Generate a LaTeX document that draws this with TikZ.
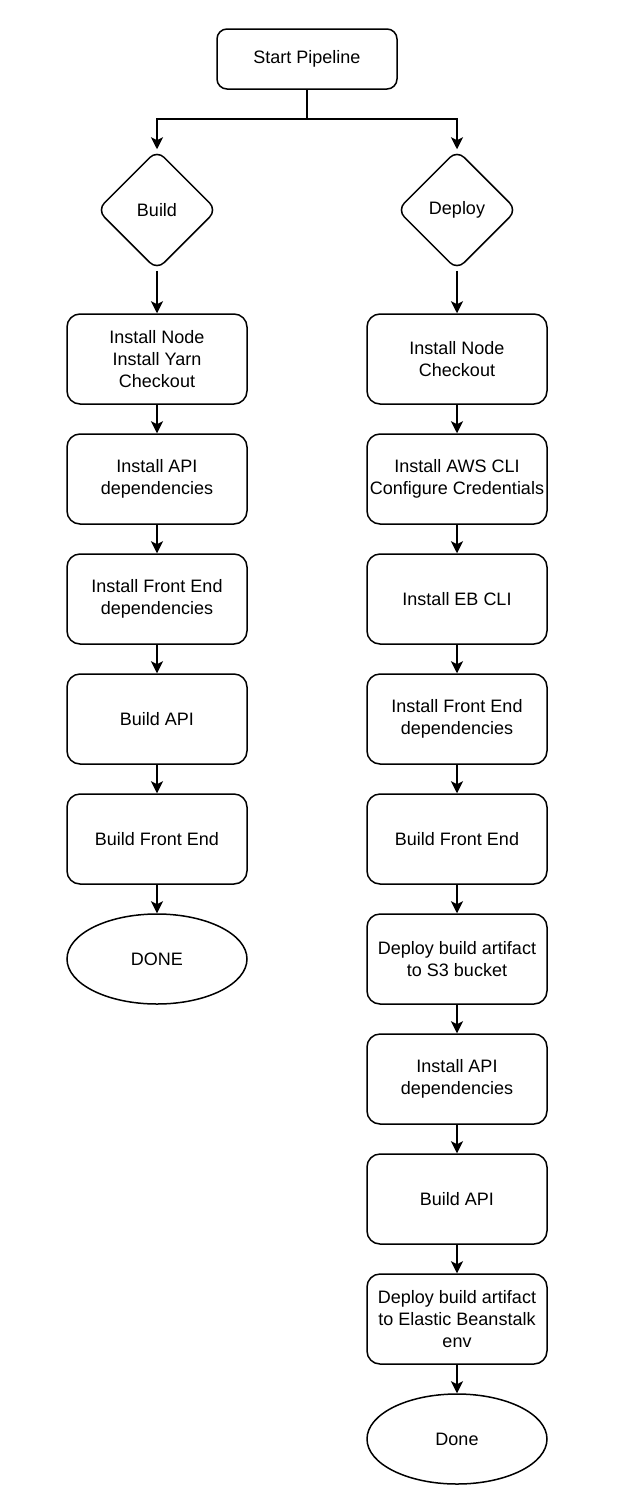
\documentclass[tikz,border=0pt]{standalone}
\usepackage{fontspec}
\setmainfont{Liberation Sans}
\usetikzlibrary{shapes.geometric,arrows.meta}

\begin{document}
\begin{tikzpicture}[x=1pt, y=-1pt, line width=1.5pt,
    every node/.style={font=\fontsize{18}{21.6}\selectfont, align=center},
    stepbox/.style={rectangle, draw, rounded corners=13pt, minimum width=180pt, minimum height=90pt, inner sep=0pt},
    branch/.style={diamond, draw, rounded corners=10pt, minimum width=120pt, minimum height=120pt, inner sep=0pt},
    finish/.style={ellipse, draw, minimum width=180pt, minimum height=90pt, inner sep=0pt},
    flow/.style={-{Stealth[length=12pt, width=12pt, inset=3pt]}}]
    \useasboundingbox (0,0) rectangle (620,1494);

    % Start and split
    \node[rectangle, draw, rounded corners=10pt, minimum width=180pt, minimum height=60pt, inner sep=0pt] (start) at (307,59) {Start Pipeline};
    \node[branch] (build) at (157,210) {Build};
    \node[branch] (deploy) at (457,210) {Deploy};
    \coordinate (split) at (307,119);

    \draw (start) -- (split);
    \draw[flow] (split) -| (build);
    \draw[flow] (split) -| (deploy);

    % Build steps
    \node[stepbox] (b1) at (157,359) {Install Node\\Install Yarn\\Checkout};
    \node[stepbox] (b2) at (157,479) {Install API\\dependencies};
    \node[stepbox] (b3) at (157,599) {Install Front End\\dependencies};
    \node[stepbox] (b4) at (157,719) {Build API};
    \node[stepbox] (b5) at (157,839) {Build Front End};
    \node[finish] (bdone) at (157,959) {DONE};

    \draw[flow] (build) -- (b1);
    \foreach \a/\b in {b1/b2, b2/b3, b3/b4, b4/b5, b5/bdone}
        \draw[flow] (\a) -- (\b);

    % Deploy steps
    \node[stepbox] (d1) at (457,359) {Install Node\\Checkout};
    \node[stepbox] (d2) at (457,479) {Install AWS CLI\\Configure Credentials};
    \node[stepbox] (d3) at (457,599) {Install EB CLI};
    \node[stepbox] (d4) at (457,719) {Install Front End\\dependencies};
    \node[stepbox] (d5) at (457,839) {Build Front End};
    \node[stepbox] (d6) at (457,959) {Deploy build artifact\\to S3 bucket};
    \node[stepbox] (d7) at (457,1079) {Install API\\dependencies};
    \node[stepbox] (d8) at (457,1199) {Build API};
    \node[stepbox] (d9) at (457,1319) {Deploy build artifact\\to Elastic Beanstalk\\env};
    \node[finish] (ddone) at (457,1439) {Done};

    \draw[flow] (deploy) -- (d1);
    \foreach \a/\b in {d1/d2, d2/d3, d3/d4, d4/d5, d5/d6, d6/d7, d7/d8, d8/d9, d9/ddone}
        \draw[flow] (\a) -- (\b);
\end{tikzpicture}
\end{document}
